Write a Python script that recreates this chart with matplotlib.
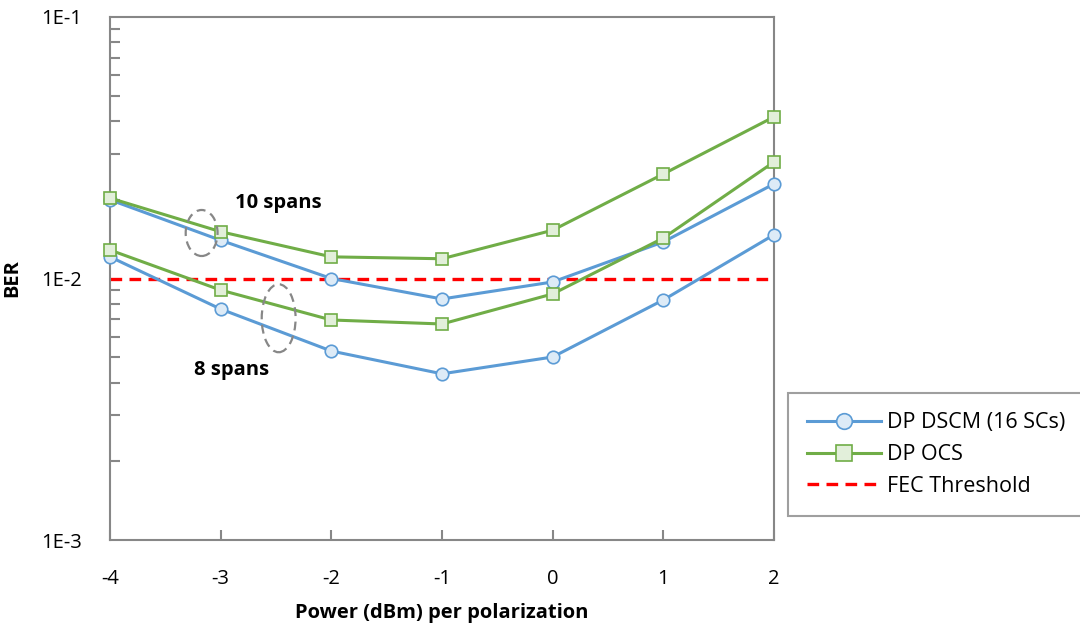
import matplotlib
matplotlib.use("Agg")
import matplotlib.pyplot as plt
from matplotlib.patches import Ellipse
from matplotlib.ticker import LogLocator, FixedLocator, NullFormatter

plt.rcParams['font.family'] = ['Open Sans', 'DejaVu Sans']

# data
power = [-4, -3, -2, -1, 0, 1, 2]
dscm_10 = [0.0200, 0.0140, 0.0100, 0.00835, 0.0097, 0.0138, 0.0230]
ocs_10 = [0.0203, 0.0151, 0.0121, 0.0119, 0.0153, 0.0251, 0.0415]
dscm_8 = [0.0121, 0.00764, 0.00528, 0.00432, 0.00501, 0.00828, 0.0147]
ocs_8 = [0.01285, 0.00903, 0.00694, 0.00670, 0.00873, 0.01428, 0.0279]
fec = 0.01
ytick_vals = [1e-3, 1e-2, 1e-1]
ytick_labels = ['1E-3', '1E-2', '1E-1']

blue, blue_face = '#5B9BD5', '#DDEBF7'
green, green_face = '#70AD47', '#E2EFDA'
gray = '#878787'
fs = 14.5

fig = plt.figure(figsize=(10.8, 6.29), dpi=100)
ax = fig.add_axes([110/1080, 89/629, 664/1080, 523/629])

ax.axhline(fec, color='#FF0000', lw=2.4, ls=(0, (3.5, 2.2)), zorder=2, label='FEC Threshold')

kw_b = dict(color=blue, lw=2.2, marker='o', ms=9, mfc=blue_face, mec=blue, mew=1.2,
            zorder=3, clip_on=False)
kw_g = dict(color=green, lw=2.2, marker='s', ms=9, mfc=green_face, mec=green, mew=1.2,
            zorder=3, clip_on=False)
ax.plot(power, dscm_10, label='DP DSCM (16 SCs)', **kw_b)
ax.plot(power, ocs_10, label='DP OCS', **kw_g)
ax.plot(power, dscm_8, **kw_b)
ax.plot(power, ocs_8, **kw_g)

ax.set_yscale('log')
ax.set_ylim(1e-3, 1e-1)
ax.set_xlim(-4, 2)
ax.yaxis.set_major_locator(FixedLocator(ytick_vals))
ax.set_yticklabels(ytick_labels)
ax.yaxis.set_minor_locator(LogLocator(base=10, subs=range(2, 10)))
ax.yaxis.set_minor_formatter(NullFormatter())
ax.set_xticks(power)
ax.set_xticklabels([str(p) for p in power])

for s in ax.spines.values():
    s.set_color(gray)
    s.set_linewidth(1.5)
ax.tick_params(axis='y', which='both', direction='in', length=7, width=1.5, color=gray,
               labelsize=fs, pad=20)
ax.tick_params(axis='y', which='major', length=0)
ax.tick_params(axis='x', which='major', direction='in', length=7, width=1.5, color=gray,
               labelsize=fs, pad=21)

ax.set_xlabel('Power (dBm) per polarization', fontsize=fs, fontweight='bold', labelpad=10)
ax.set_ylabel('BER', fontsize=fs, fontweight='bold', labelpad=14)

# span annotations
ax.add_patch(Ellipse((0.138, 0.587), 0.048, 0.088, transform=ax.transAxes, fill=False,
                     ec=gray, lw=1.6, ls=(0, (4, 2.5)), zorder=4))
ax.add_patch(Ellipse((0.254, 0.424), 0.051, 0.130, transform=ax.transAxes, fill=False,
                     ec=gray, lw=1.6, ls=(0, (4, 2.5)), zorder=4))
ax.text(0.253, 0.645, '10 spans', transform=ax.transAxes, fontsize=fs, fontweight='bold',
        ha='center', va='center')
ax.text(0.183, 0.325, '8 spans', transform=ax.transAxes, fontsize=fs, fontweight='bold',
        ha='center', va='center')

handles, labels = ax.get_legend_handles_labels()
order = [labels.index('DP DSCM (16 SCs)'), labels.index('DP OCS'), labels.index('FEC Threshold')]
leg = fig.legend([handles[i] for i in order], [labels[i] for i in order],
                 loc='upper left', bbox_to_anchor=(788/1080, 1 - 393/629),
                 fontsize=15.5, frameon=True, fancybox=False, handlelength=3.4,
                 handletextpad=0.3, borderpad=0.9, borderaxespad=0, labelspacing=0.5,
                 markerscale=1.25)
leg.get_frame().set_edgecolor(gray)
leg.get_frame().set_linewidth(1.5)

fig.savefig('out.png', dpi=100)
